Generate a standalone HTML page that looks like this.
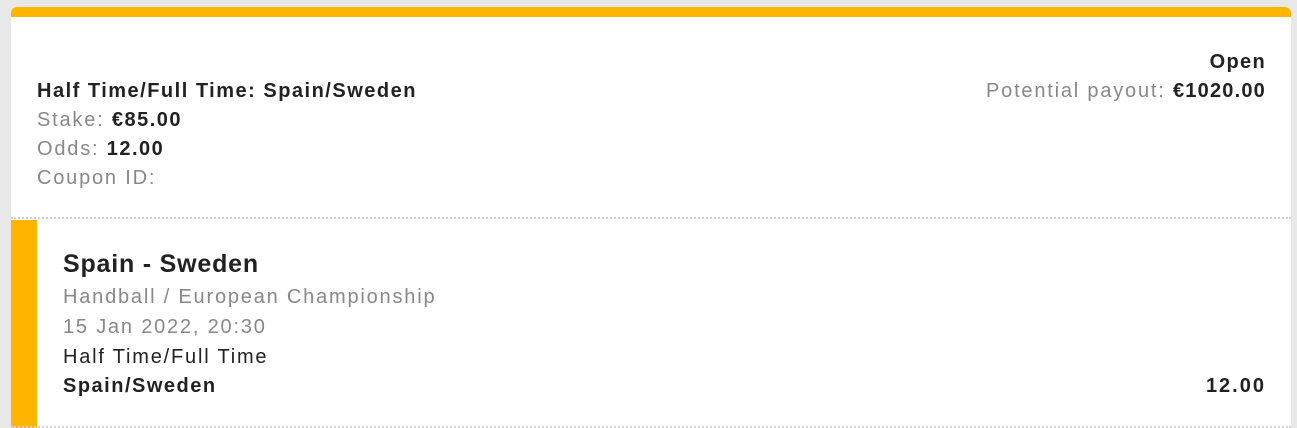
<!DOCTYPE html>
<html><head><style>
body{margin:0;width:1297px;height:428px;background:#e8e8e8;font-family:"Liberation Sans",sans-serif;position:relative;overflow:hidden}
.card{position:absolute;left:11px;top:7px;width:1280px;height:421px;background:#fff;border-radius:6px 6px 0 0}
.top{position:absolute;left:0;top:0;width:1280px;height:10px;background:#ffb400;border-radius:6px 6px 0 0}
.t{position:absolute;font-size:20px;line-height:29px;white-space:nowrap;letter-spacing:1.8px}
.g{color:#888}.b{font-weight:bold;color:#222;letter-spacing:1.5px}
.dot{position:absolute;left:0;width:1280px;border-top:2px dotted #d4d4d4}
.bar{position:absolute;left:0;top:213px;width:26px;height:208px;background:#ffb400}
</style></head><body>
<div class="card">
<div class="top"></div>
<div class="t b" style="right:25px;top:41px;letter-spacing:1.3px">Open</div>
<div class="t g" style="right:25px;top:70px;letter-spacing:1.8px">Potential payout: <span class="b" style="letter-spacing:1.2px">€1020.00</span></div>
<div class="t b" style="left:26px;top:70px">Half Time/Full Time: Spain/Sweden</div>
<div class="t g" style="left:26px;top:99px">Stake: <span class="b">€85.00</span></div>
<div class="t g" style="left:26px;top:128px">Odds: <span class="b">12.00</span></div>
<div class="t g" style="left:26px;top:157px">Coupon ID:</div>
<div class="dot" style="top:210px"></div>
<div class="bar"></div>
<div class="t b" style="left:52px;top:241px;font-size:25px;line-height:32px;letter-spacing:0.8px">Spain - Sweden</div>
<div class="t g" style="left:52px;top:276px">Handball / European Championship</div>
<div class="t g" style="left:52px;top:306px">15 Jan 2022, 20:30</div>
<div class="t" style="left:52px;top:336px;color:#222">Half Time/Full Time</div>
<div class="t b" style="left:52px;top:365px">Spain/Sweden</div>
<div class="t b" style="right:25px;top:365px;letter-spacing:2px">12.00</div>
<div class="dot" style="top:419px"></div>
</div>
</body></html>
